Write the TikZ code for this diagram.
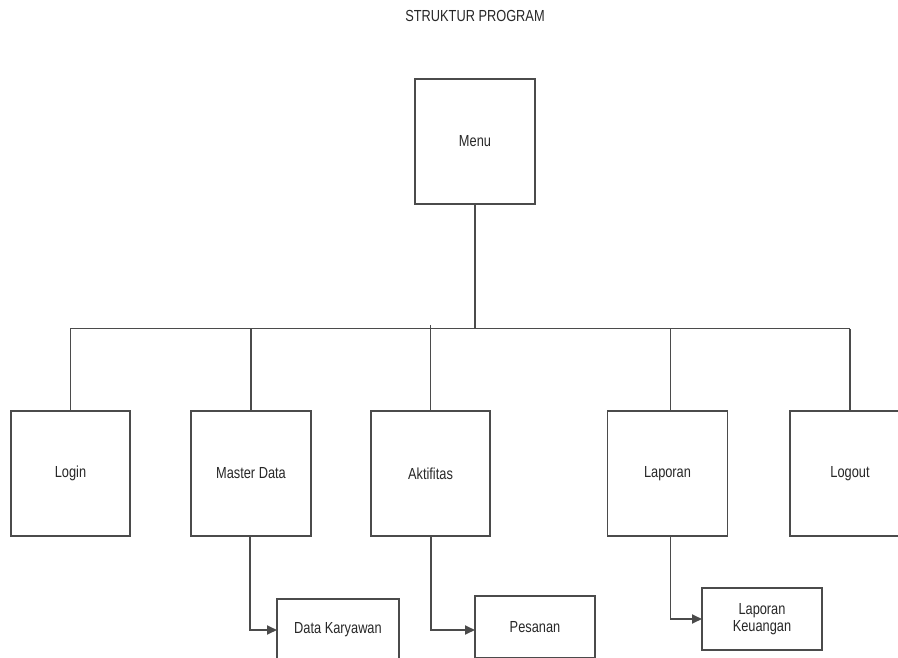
\documentclass[tikz,border=0pt]{standalone}
\usepackage{fontspec}
\setmainfont[FakeStretch=0.8]{Liberation Sans}
\usetikzlibrary{arrows.meta}
\definecolor{ln}{RGB}{75,75,75}
\definecolor{tx}{RGB}{40,40,40}
\begin{document}
\begin{tikzpicture}[x=1pt,y=-1pt,
  box/.style={draw=ln,line width=1.8pt,fill=white,inner sep=0pt,outer sep=0pt,
    minimum width=#1,text=tx,font=\fontsize{16}{17}\selectfont,align=center},
  box/.default=120pt,
  big/.style={minimum height=125pt},
  small/.style={minimum height=62pt},
  conn/.style={draw=ln,line width=1.8pt},
  arr/.style={conn,-{Triangle[length=10pt,width=9pt]}}]
\useasboundingbox[fill=white] (0,0) rectangle (898,658);
\node[text=tx,font=\fontsize{16}{17}\selectfont] (title) at (475,16) {STRUKTUR PROGRAM};
\node[box,big] (menu) at (475,141.5) {Menu};
\node[box=119pt,big] (login) at (70.5,473.5) {Login};
\node[box,big] (master) at (251,473.5) {Master Data};
\node[box=119pt,big] (aktif) at (430.5,473.5) {Aktifitas};
\node[box,big] (lap) at (667.5,473.5) {Laporan};
\node[box,big] (logout) at (850,473.5) {Logout};
\node[box=122pt,small] (dk) at (338,630) {Data Karyawan};
\node[box,small] (pes) at (535,627) {Pesanan};
\node[box,small] (lk) at (762,619) {Laporan\\Keuangan};
\coordinate (busL) at (70,328.5);
\coordinate (busR) at (850,328.5);
\coordinate (dA) at (430.5,325);
\coordinate (dL) at (670.5,328.5);
\coordinate (e1) at (250,630);
\coordinate (e2) at (431,630);
\coordinate (e3) at (670.5,619);
\draw[conn] (busL) -- (busR);
\draw[conn] (menu.south) -- (menu.south |- busL);
\draw[conn] (login.north) -- (login.north |- busL);
\draw[conn] (master.north) -- (master.north |- busL);
\draw[conn] (dA) -- (dA |- aktif.north);
\draw[conn] (dL) -- (dL |- lap.north);
\draw[conn] (logout.north) -- (logout.north |- busL);
\draw[arr] (e1 |- master.south) -- (e1) -- (e1 -| dk.west);
\draw[arr] (e2 |- aktif.south) -- (e2) -- (e2 -| pes.west);
\draw[arr] (e3 |- lap.south) -- (e3) -- (e3 -| lk.west);
\end{tikzpicture}
\end{document}
